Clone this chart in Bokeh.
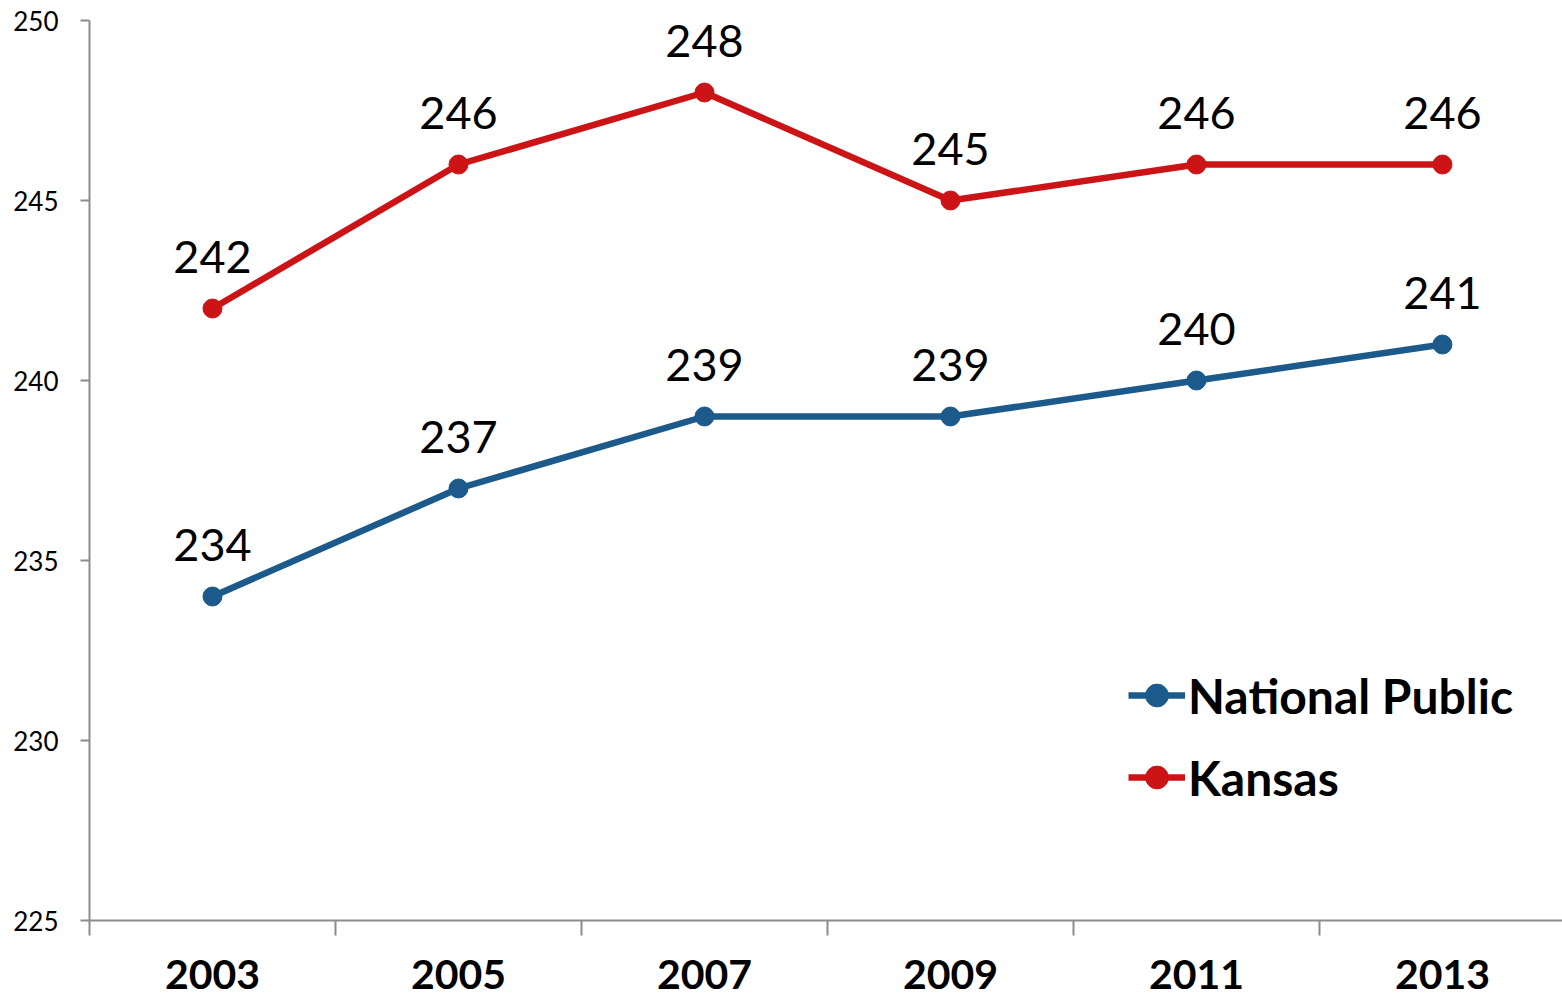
from bokeh.plotting import figure
from bokeh.models import FixedTicker, Legend, LegendItem, ColumnDataSource, Range1d
from bokeh.core.properties import value
from bokeh.embed import file_html
from bokeh.resources import INLINE

years = [2003, 2005, 2007, 2009, 2011, 2013]
national = [234, 237, 239, 239, 240, 241]
kansas = [242, 246, 248, 245, 246, 246]
y_ticks = [225, 230, 235, 240, 245, 250]
band_edges = [2002, 2004, 2006, 2008, 2010, 2012, 2014]

BLUE = "#1B5A8A"
RED = "#CC1417"
FONT = "Lato"

p = figure(width=1562, height=1000, output_backend="svg", toolbar_location=None,
           x_range=Range1d(2002, 2013.976), y_range=Range1d(225, 250),
           min_border_left=89, min_border_top=20, min_border_bottom=80, min_border_right=0)
p.outline_line_color = None
p.grid.visible = False

src_n = ColumnDataSource(dict(x=years, y=national, t=[str(v) for v in national]))
src_k = ColumnDataSource(dict(x=years, y=kansas, t=[str(v) for v in kansas]))

ln = p.line("x", "y", source=src_n, line_color=BLUE, line_width=6.5)
sn = p.scatter("x", "y", source=src_n, size=19, fill_color=BLUE, line_color=BLUE)
lk = p.line("x", "y", source=src_k, line_color=RED, line_width=6.5)
sk = p.scatter("x", "y", source=src_k, size=19, fill_color=RED, line_color=RED)

for s in (src_n, src_k):
    p.text("x", "y", text="t", source=s, text_font=value(FONT), text_font_size="45px",
           text_align="center", text_baseline="bottom", y_offset=-36, text_color="black")

# axes
xa = p.xaxis[0]
xa.ticker = FixedTicker(ticks=years, minor_ticks=band_edges)
xa.major_tick_line_color = None
xa.minor_tick_out = 15
xa.minor_tick_in = 0
xa.minor_tick_line_color = "#8c8c8c"
xa.minor_tick_line_width = 2
xa.axis_line_color = "#8c8c8c"
xa.axis_line_width = 2
xa.major_label_text_font = FONT
xa.major_label_text_font_style = "bold"
xa.major_label_text_font_size = "41px"
xa.major_label_text_color = "black"
xa.major_label_standoff = 24

ya = p.yaxis[0]
ya.ticker = FixedTicker(ticks=y_ticks)
ya.minor_tick_line_color = None
ya.major_tick_out = 9
ya.major_tick_in = 0
ya.major_tick_line_color = "#8c8c8c"
ya.major_tick_line_width = 2
ya.axis_line_color = "#8c8c8c"
ya.axis_line_width = 2
ya.major_label_text_font = FONT
ya.major_label_text_font_size = "26px"
ya.major_label_text_color = "black"
ya.major_label_standoff = 22

legend = Legend(items=[LegendItem(label="National Public", renderers=[ln, sn]),
                       LegendItem(label="Kansas", renderers=[lk, sk])],
                location=(1039, 114), orientation="vertical")
legend.label_text_font = FONT
legend.label_text_font_style = "bold"
legend.label_text_font_size = "48px"
legend.label_text_color = "black"
legend.glyph_width = 57
legend.glyph_height = 58
legend.label_height = 58
legend.spacing = 24
legend.padding = 0
legend.margin = 0
legend.label_standoff = 3
legend.border_line_color = None
legend.background_fill_alpha = 0
p.add_layout(legend, "center")

open("out.html", "w").write(file_html(p, INLINE))
